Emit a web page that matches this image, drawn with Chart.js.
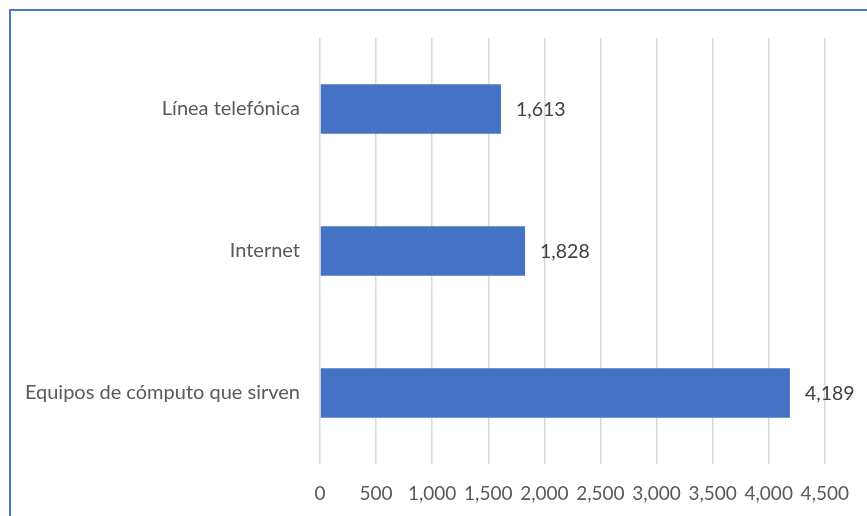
<!DOCTYPE html>
<html>
<head>
<meta charset="utf-8">
<script src="https://cdn.jsdelivr.net/npm/chart.js@4"></script>
<style>
  html, body { margin: 0; padding: 0; background: #fff; overflow: hidden; }
  #wrap { position: relative; width: 867px; height: 516px; }
  #frame { position: absolute; left: 9px; top: 9px; width: 900px; height: 600px; border: 2px solid #4a76c6; box-sizing: border-box; }
  canvas { position: absolute; left: 0; top: 0; }
</style>
</head>
<body>
<div id="wrap">
  <div id="frame"></div>
  <canvas id="chart" width="867" height="516"></canvas>
</div>
<script>
document.addEventListener('DOMContentLoaded', function() {
    const categories = ['Línea telefónica', 'Internet', 'Equipos de cómputo que sirven'];
    const values = [1613, 1828, 4189];
    const xTicks = [0, 500, 1000, 1500, 2000, 2500, 3000, 3500, 4000, 4500];

    const fontFamily = "Lato, 'Open Sans', sans-serif";

    // etiquetas de valor a la derecha de cada barra
    const valueLabels = {
        id: 'valueLabels',
        afterDatasetsDraw(chart) {
            const ctx = chart.ctx;
            const meta = chart.getDatasetMeta(0);
            ctx.save();
            ctx.font = '19.5px ' + fontFamily;
            ctx.fillStyle = '#404040';
            ctx.textAlign = 'left';
            ctx.textBaseline = 'middle';
            meta.data.forEach((bar, i) => {
                ctx.fillText(values[i].toLocaleString('en-US'), bar.x + 15, bar.y + 1);
            });
            ctx.restore();
        }
    };

    new Chart(document.getElementById('chart'), {
        type: 'bar',
        data: {
            labels: categories,
            datasets: [{
                data: values,
                backgroundColor: '#4472c4',
                borderWidth: 0,
                barPercentage: 0.35,
                categoryPercentage: 1.0
            }]
        },
        options: {
            indexAxis: 'y',
            responsive: false,
            animation: false,
            layout: { padding: { top: 38, right: 41, left: 0, bottom: 0 } },
            plugins: {
                legend: { display: false },
                tooltip: { enabled: false }
            },
            scales: {
                x: {
                    min: 0,
                    max: 4500,
                    afterBuildTicks: (scale) => { scale.ticks = xTicks.map(v => ({ value: v })); },
                    afterFit: (scale) => { scale.height = 52; },
                    grid: { color: '#d9d9d9', lineWidth: 1.5, drawTicks: false },
                    border: { display: false },
                    ticks: {
                        padding: 18,
                        color: '#595959',
                        font: { family: fontFamily, size: 19 },
                        callback: (v) => v.toLocaleString('en-US')
                    }
                },
                y: {
                    afterFit: (scale) => { scale.width = 320; },
                    grid: { display: false, drawTicks: false },
                    border: { display: false },
                    ticks: {
                        padding: 20,
                        color: '#595959',
                        font: { family: fontFamily, size: 20 }
                    }
                }
            }
        },
        plugins: [valueLabels]
    });
});
</script>
</body>
</html>
